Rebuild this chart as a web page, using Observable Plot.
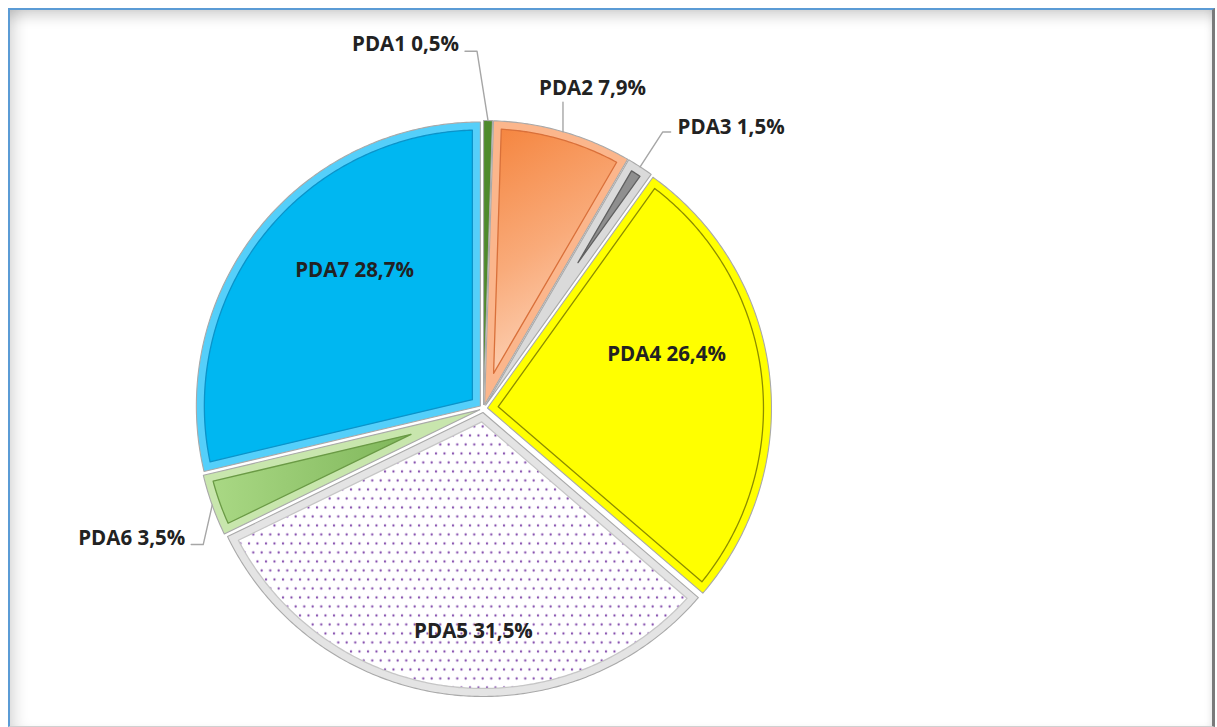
<!DOCTYPE html>
<html><head><meta charset="utf-8">
<script src="https://cdn.jsdelivr.net/npm/d3@7"></script>
<script src="https://cdn.jsdelivr.net/npm/@observablehq/plot@0.6"></script>
<style>
html,body{margin:0;padding:0;background:#fff;}
#wrap{position:relative;width:1217px;height:727px;overflow:hidden;background:#fff;}
#frame{position:absolute;left:8px;top:8px;width:1202px;height:716px;border-top:2px solid #5b9bd5;border-left:2px solid #5b9bd5;border-right:3px solid #7a7a7a;border-bottom:1px solid #d0d0d0;background:#fff;
box-shadow: inset 0 14px 14px -8px rgba(0,0,0,0.18), inset 14px 0 14px -8px rgba(0,0,0,0.13), inset -6px 0 8px -6px rgba(0,0,0,0.10);}
#chart{position:absolute;left:0;top:0;}
</style></head><body>
<div id="wrap"><div id="frame"></div><div id="chart"></div></div>
<svg width="0" height="0" style="position:absolute">
  <defs>
    <pattern id="dots" patternUnits="userSpaceOnUse" width="8.5" height="18">
      <rect width="8.5" height="18" fill="#ffffff"/>
      <circle cx="2" cy="3" r="1.15" fill="#7030a0" fill-opacity="0.9"/>
      <circle cx="6.25" cy="12" r="1.15" fill="#7030a0" fill-opacity="0.9"/>
    </pattern>
    <linearGradient id="gOrange" x1="0" y1="0" x2="0.3" y2="1">
      <stop offset="0" stop-color="#f5853f"/>
      <stop offset="0.55" stop-color="#f9ab7a"/>
      <stop offset="1" stop-color="#fdd3b8"/>
    </linearGradient>
    <linearGradient id="gGreen" x1="0" y1="0" x2="1" y2="0">
      <stop offset="0" stop-color="#a9d884"/>
      <stop offset="1" stop-color="#7fb65a"/>
    </linearGradient>
  </defs>
</svg>
<script>
// ---- data ----
const categories = ["PDA1", "PDA2", "PDA3", "PDA4", "PDA5", "PDA6", "PDA7"];
const shares = [0.5, 7.9, 1.5, 26.4, 31.5, 3.5, 28.7];
const valueLabels = shares.map(v => v.toFixed(1).replace(".", ",") + "%");

// ---- styles ----
const rimColors  = ["#4f8a2c", "#fbb68c", "#dadada", "#ffff00", "#e4e4e4", "#c8e6ad", "#55cffa"];
const mainColors = ["#3f7320", "url(#gOrange)", "#8f8f8f", "#ffff00", "url(#dots)", "url(#gGreen)", "#00b7f1"];
const edgeColors = ["#2f5a18", "#d9703a", "#606060", "#8c8c00", "#c6c6c6", "#6a9a45", "#0b93c9"];

// ---- layout ----
const R = 284;            // pie radius (px units)
const EXPLODE = 4;        // slice explosion
const BEVEL = 8;          // inner bevel inset
// label placement: radius factor and angle nudge (deg) relative to slice mid-angle
const labelRadius = [1.31, 1.19, 1.32, 0.672, 0.785, 1.32, 0.665];
const labelNudge  = [-13, 2.8, 8.4, -9.6, -4.8, -0.6, 8.6];
const FONT_SIZE = 20.5;

const arcs = d3.pie().sort(null).startAngle(0).endAngle(2 * Math.PI)(shares);
const dir = a => [Math.sin(a), Math.cos(a)]; // y up

function wedge(arc, t) {
  const a0 = arc.startAngle, a1 = arc.endAngle, m = (a0 + a1) / 2, h = (a1 - a0) / 2;
  const c = dir(m).map(v => v * EXPLODE);
  const pts = [];
  let vshift = 0;
  if (t > 0) {
    vshift = t / Math.sin(Math.min(h, Math.PI / 2));
    if (vshift > R * 0.8) return null;
  }
  const rr = R - t;
  const delta = t > 0 ? Math.asin(t / rr) : 0;
  const dm = dir(m);
  pts.push([c[0] + dm[0] * vshift, c[1] + dm[1] * vshift]);
  const n = Math.max(4, Math.ceil((a1 - a0 - 2 * delta) / 0.01));
  for (let k = 0; k <= n; k++) {
    const a = a0 + delta + (a1 - a0 - 2 * delta) * k / n;
    const d = dir(a);
    pts.push([c[0] + d[0] * rr, c[1] + d[1] * rr]);
  }
  return pts.map(([x, y]) => ({x, y}));
}

const marks = [];
arcs.forEach((arc, i) => {
  const outer = wedge(arc, 0);
  marks.push(Plot.line(outer, {x: "x", y: "y", curve: "linear-closed", fill: rimColors[i], stroke: "#a9a9a9", strokeWidth: 1.1}));
  const inner = wedge(arc, BEVEL);
  if (inner) marks.push(Plot.line(inner, {x: "x", y: "y", curve: "linear-closed", fill: mainColors[i], stroke: edgeColors[i], strokeWidth: 1.3}));
});

// labels
const ctx = document.createElement("canvas").getContext("2d");
ctx.font = `bold ${FONT_SIZE}px "Open Sans"`;
const labelRows = [];
const leaderRows = [];
arcs.forEach((arc, i) => {
  const m = (arc.startAngle + arc.endAngle) / 2;
  const la = m + labelNudge[i] * Math.PI / 180;
  const [dx, dy] = dir(la);
  const lx = dx * R * labelRadius[i], ly = dy * R * labelRadius[i];
  const text = `${categories[i]} ${valueLabels[i]}`;
  labelRows.push({x: lx, y: ly, text});
  if (labelRadius[i] > 1) {
    const w = ctx.measureText(text).width;
    const s = dir(m).map(v => v * (R + EXPLODE));
    let pts;
    if (Math.abs(s[0] - lx) < w / 2) {
      pts = [s, [s[0], ly - 13.5]];
    } else if (s[0] > lx) {
      const e = [lx + w / 2 + 6, ly - 6.5];
      pts = [s, [e[0] + 12, e[1]], e];
    } else {
      const e = [lx - w / 2 - 7, ly - 5];
      pts = [s, [e[0] - 8, e[1]], e];
    }
    pts.forEach(([x, y]) => leaderRows.push({id: i, x, y}));
  }
});
marks.push(Plot.line(leaderRows, {x: "x", y: "y", z: "id", stroke: "#a6a6a6", strokeWidth: 1.4}));
marks.push(Plot.text(labelRows, {x: "x", y: "y", text: "text", fontSize: FONT_SIZE, fontWeight: "bold", fontFamily: "Open Sans", fill: "#222222"}));

const chart = Plot.plot({
  width: 1217, height: 727, margin: 0,
  x: {domain: [-483, 734], axis: null},
  y: {domain: [-319, 408], axis: null},
  style: {background: "transparent", overflow: "visible"},
  marks
});
document.getElementById("chart").appendChild(chart);
</script>
</body></html>
